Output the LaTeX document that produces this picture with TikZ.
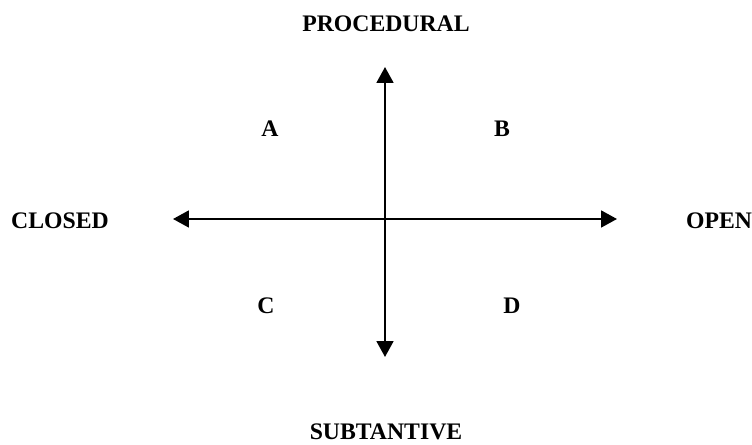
\documentclass[tikz,border=0pt]{standalone}
\usepackage{fontspec}
\setmainfont{Liberation Serif}
\usetikzlibrary{arrows.meta}
\begin{document}
\begin{tikzpicture}[x=0.02cm,y=-0.02cm,every node/.style={font=\fontsize{13.5}{16}\selectfont\bfseries,inner sep=0pt},
    axis/.style={line width=1.3pt,{Triangle[length=9pt,width=9.5pt]}-{Triangle[length=9pt,width=9.5pt]}}]
        \useasboundingbox (0,0) rectangle (752,445);
        \coordinate (left) at (173,219);
        \coordinate (right) at (617,219);
        \coordinate (top) at (385,67);
        \coordinate (bottom) at (385,357);

        \node (proc) at (386,24) {PROCEDURAL};
        \node (subt) at (386,432) {SUBTANTIVE};
        \node (closed) at (60,221) {CLOSED};
        \node (open) at (719,221) {OPEN};
        \node (a) at (270,129) {A};
        \node (b) at (502,129) {B};
        \node (c) at (266,306) {C};
        \node (d) at (512,306) {D};

        \draw[axis] (left)--(right);
        \draw[axis] (bottom)--(top);
    \end{tikzpicture}
\end{document}
